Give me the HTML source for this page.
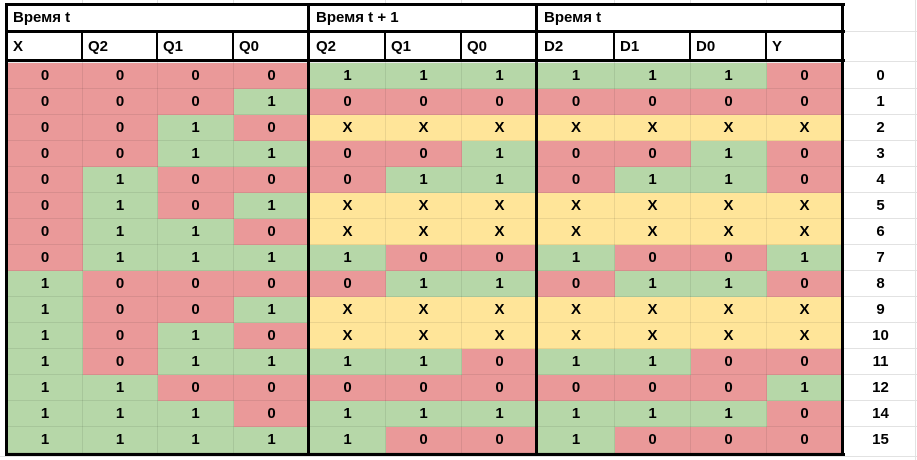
<!DOCTYPE html>
<html><head><meta charset="utf-8"><style>
body{margin:0;width:917px;height:460px;background:#fff;position:relative;overflow:hidden;font-family:"Liberation Sans",Arial,sans-serif;font-weight:bold;font-size:15px;color:#000}
.a{position:absolute}
.k{position:absolute;background:#000}
.g{position:absolute;background:#e2e2e2}
table{position:absolute;left:7px;top:62px;border-collapse:collapse;table-layout:fixed;width:835px}
td{height:25px;padding:0;border:1px solid rgba(0,0,0,0.08);text-align:center;font-size:15px}
.r{background:#ea9999}.g1{background:#b6d7a8}.y{background:#ffe599}
.h{position:absolute;font-size:15px;line-height:15px}
.n{position:absolute;left:844px;width:73px;text-align:center;font-size:15px}
</style></head><body>
<div class="g" style="left:82px;top:0;width:1px;height:4px"></div>
<div class="g" style="left:157px;top:0;width:1px;height:4px"></div>
<div class="g" style="left:233px;top:0;width:1px;height:4px"></div>
<div class="g" style="left:385px;top:0;width:1px;height:4px"></div>
<div class="g" style="left:461px;top:0;width:1px;height:4px"></div>
<div class="g" style="left:614px;top:0;width:1px;height:4px"></div>
<div class="g" style="left:690px;top:0;width:1px;height:4px"></div>
<div class="g" style="left:766px;top:0;width:1px;height:4px"></div>
<div class="g" style="left:844px;top:31px;width:73px;height:1px"></div>
<div class="g" style="left:844px;top:61px;width:73px;height:1px"></div>
<div class="g" style="left:844px;top:88px;width:73px;height:1px"></div>
<div class="g" style="left:844px;top:114px;width:73px;height:1px"></div>
<div class="g" style="left:844px;top:140px;width:73px;height:1px"></div>
<div class="g" style="left:844px;top:166px;width:73px;height:1px"></div>
<div class="g" style="left:844px;top:192px;width:73px;height:1px"></div>
<div class="g" style="left:844px;top:218px;width:73px;height:1px"></div>
<div class="g" style="left:844px;top:244px;width:73px;height:1px"></div>
<div class="g" style="left:844px;top:270px;width:73px;height:1px"></div>
<div class="g" style="left:844px;top:296px;width:73px;height:1px"></div>
<div class="g" style="left:844px;top:322px;width:73px;height:1px"></div>
<div class="g" style="left:844px;top:348px;width:73px;height:1px"></div>
<div class="g" style="left:844px;top:374px;width:73px;height:1px"></div>
<div class="g" style="left:844px;top:400px;width:73px;height:1px"></div>
<div class="g" style="left:844px;top:426px;width:73px;height:1px"></div>
<div class="g" style="left:0;top:456px;width:917px;height:1px"></div>
<div class="g" style="left:915px;top:0;width:1px;height:460px"></div>

<div class="h" style="left:13px;top:10px">Время t</div>
<div class="h" style="left:316px;top:10px">Время t + 1</div>
<div class="h" style="left:544px;top:10px">Время t</div>
<div class="h" style="left:13px;top:39px">X</div>
<div class="h" style="left:88px;top:39px">Q2</div>
<div class="h" style="left:163px;top:39px">Q1</div>
<div class="h" style="left:239px;top:39px">Q0</div>
<div class="h" style="left:316px;top:39px">Q2</div>
<div class="h" style="left:391px;top:39px">Q1</div>
<div class="h" style="left:467px;top:39px">Q0</div>
<div class="h" style="left:544px;top:39px">D2</div>
<div class="h" style="left:620px;top:39px">D1</div>
<div class="h" style="left:696px;top:39px">D0</div>
<div class="h" style="left:772px;top:39px">Y</div>

<table>
<colgroup><col style="width:75px"><col style="width:75px"><col style="width:76px"><col style="width:76px"><col style="width:76px"><col style="width:76px"><col style="width:76px"><col style="width:77px"><col style="width:76px"><col style="width:76px"><col style="width:76px"></colgroup>
<tr><td class="r">0</td><td class="r">0</td><td class="r">0</td><td class="r">0</td><td class="g1">1</td><td class="g1">1</td><td class="g1">1</td><td class="g1">1</td><td class="g1">1</td><td class="g1">1</td><td class="r">0</td></tr>
<tr><td class="r">0</td><td class="r">0</td><td class="r">0</td><td class="g1">1</td><td class="r">0</td><td class="r">0</td><td class="r">0</td><td class="r">0</td><td class="r">0</td><td class="r">0</td><td class="r">0</td></tr>
<tr><td class="r">0</td><td class="r">0</td><td class="g1">1</td><td class="r">0</td><td class="y">X</td><td class="y">X</td><td class="y">X</td><td class="y">X</td><td class="y">X</td><td class="y">X</td><td class="y">X</td></tr>
<tr><td class="r">0</td><td class="r">0</td><td class="g1">1</td><td class="g1">1</td><td class="r">0</td><td class="r">0</td><td class="g1">1</td><td class="r">0</td><td class="r">0</td><td class="g1">1</td><td class="r">0</td></tr>
<tr><td class="r">0</td><td class="g1">1</td><td class="r">0</td><td class="r">0</td><td class="r">0</td><td class="g1">1</td><td class="g1">1</td><td class="r">0</td><td class="g1">1</td><td class="g1">1</td><td class="r">0</td></tr>
<tr><td class="r">0</td><td class="g1">1</td><td class="r">0</td><td class="g1">1</td><td class="y">X</td><td class="y">X</td><td class="y">X</td><td class="y">X</td><td class="y">X</td><td class="y">X</td><td class="y">X</td></tr>
<tr><td class="r">0</td><td class="g1">1</td><td class="g1">1</td><td class="r">0</td><td class="y">X</td><td class="y">X</td><td class="y">X</td><td class="y">X</td><td class="y">X</td><td class="y">X</td><td class="y">X</td></tr>
<tr><td class="r">0</td><td class="g1">1</td><td class="g1">1</td><td class="g1">1</td><td class="g1">1</td><td class="r">0</td><td class="r">0</td><td class="g1">1</td><td class="r">0</td><td class="r">0</td><td class="g1">1</td></tr>
<tr><td class="g1">1</td><td class="r">0</td><td class="r">0</td><td class="r">0</td><td class="r">0</td><td class="g1">1</td><td class="g1">1</td><td class="r">0</td><td class="g1">1</td><td class="g1">1</td><td class="r">0</td></tr>
<tr><td class="g1">1</td><td class="r">0</td><td class="r">0</td><td class="g1">1</td><td class="y">X</td><td class="y">X</td><td class="y">X</td><td class="y">X</td><td class="y">X</td><td class="y">X</td><td class="y">X</td></tr>
<tr><td class="g1">1</td><td class="r">0</td><td class="g1">1</td><td class="r">0</td><td class="y">X</td><td class="y">X</td><td class="y">X</td><td class="y">X</td><td class="y">X</td><td class="y">X</td><td class="y">X</td></tr>
<tr><td class="g1">1</td><td class="r">0</td><td class="g1">1</td><td class="g1">1</td><td class="g1">1</td><td class="g1">1</td><td class="r">0</td><td class="g1">1</td><td class="g1">1</td><td class="r">0</td><td class="r">0</td></tr>
<tr><td class="g1">1</td><td class="g1">1</td><td class="r">0</td><td class="r">0</td><td class="r">0</td><td class="r">0</td><td class="r">0</td><td class="r">0</td><td class="r">0</td><td class="r">0</td><td class="g1">1</td></tr>
<tr><td class="g1">1</td><td class="g1">1</td><td class="g1">1</td><td class="r">0</td><td class="g1">1</td><td class="g1">1</td><td class="g1">1</td><td class="g1">1</td><td class="g1">1</td><td class="g1">1</td><td class="r">0</td></tr>
<tr><td class="g1">1</td><td class="g1">1</td><td class="g1">1</td><td class="g1">1</td><td class="g1">1</td><td class="r">0</td><td class="r">0</td><td class="g1">1</td><td class="r">0</td><td class="r">0</td><td class="r">0</td></tr>
</table>

<div class="k" style="left:5px;top:3px;width:840px;height:3px"></div>
<div class="k" style="left:5px;top:30px;width:840px;height:3px"></div>
<div class="k" style="left:5px;top:59px;width:840px;height:3px"></div>
<div class="k" style="left:5px;top:453px;width:840px;height:3px"></div>
<div class="k" style="left:5px;top:3px;width:3px;height:453px"></div>
<div class="k" style="left:307px;top:3px;width:3px;height:453px"></div>
<div class="k" style="left:535px;top:3px;width:3px;height:453px"></div>
<div class="k" style="left:841px;top:3px;width:3px;height:453px"></div>
<div class="k" style="left:81px;top:31px;width:2px;height:30px"></div>
<div class="k" style="left:156px;top:31px;width:2px;height:30px"></div>
<div class="k" style="left:232px;top:31px;width:2px;height:30px"></div>
<div class="k" style="left:384px;top:31px;width:2px;height:30px"></div>
<div class="k" style="left:460px;top:31px;width:2px;height:30px"></div>
<div class="k" style="left:613px;top:31px;width:2px;height:30px"></div>
<div class="k" style="left:689px;top:31px;width:2px;height:30px"></div>
<div class="k" style="left:765px;top:31px;width:2px;height:30px"></div>

<div class="n" style="top:67px">0</div>
<div class="n" style="top:93px">1</div>
<div class="n" style="top:119px">2</div>
<div class="n" style="top:145px">3</div>
<div class="n" style="top:171px">4</div>
<div class="n" style="top:197px">5</div>
<div class="n" style="top:223px">6</div>
<div class="n" style="top:249px">7</div>
<div class="n" style="top:275px">8</div>
<div class="n" style="top:301px">9</div>
<div class="n" style="top:327px">10</div>
<div class="n" style="top:353px">11</div>
<div class="n" style="top:379px">12</div>
<div class="n" style="top:405px">14</div>
<div class="n" style="top:431px">15</div>
</body></html>
